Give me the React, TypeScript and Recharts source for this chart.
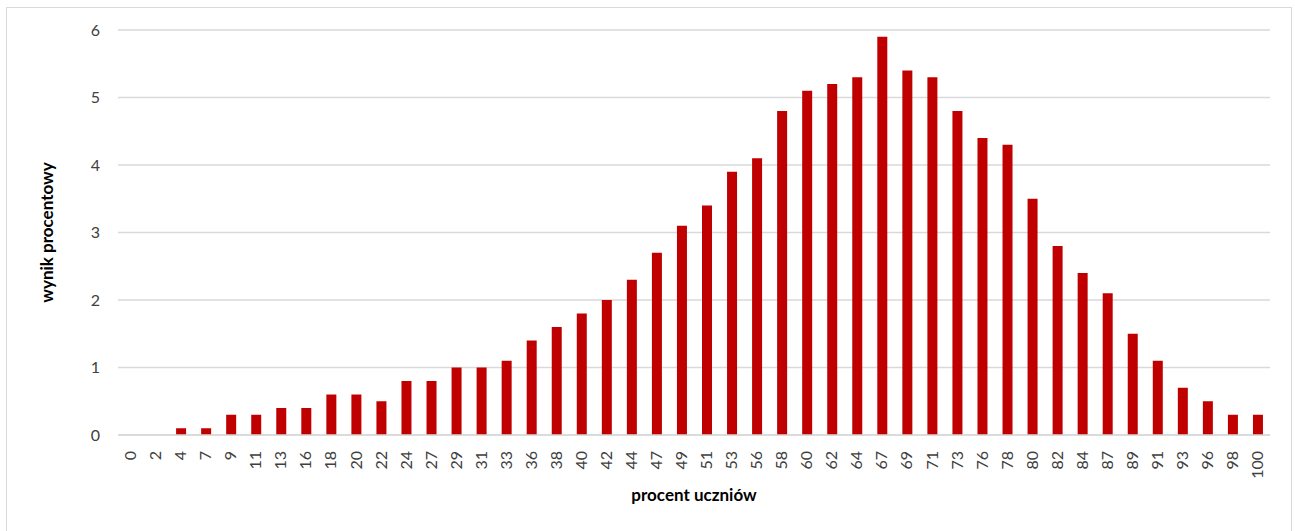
import React from 'react';
import { BarChart, Bar, XAxis, YAxis, CartesianGrid, Label } from 'recharts';

const categories = [
  '0', '2', '4', '7', '9', '11', '13', '16', '18', '20', '22', '24', '27', '29', '31', '33',
  '36', '38', '40', '42', '44', '47', '49', '51', '53', '56', '58', '60', '62', '64', '67',
  '69', '71', '73', '76', '78', '80', '82', '84', '87', '89', '91', '93', '96', '98', '100',
];

const values = [
  0, 0, 0.1, 0.1, 0.3, 0.3, 0.4, 0.4, 0.6, 0.6, 0.5, 0.8, 0.8, 1.0, 1.0, 1.1,
  1.4, 1.6, 1.8, 2.0, 2.3, 2.7, 3.1, 3.4, 3.9, 4.1, 4.8, 5.1, 5.2, 5.3, 5.9,
  5.4, 5.3, 4.8, 4.4, 4.3, 3.5, 2.8, 2.4, 2.1, 1.5, 1.1, 0.7, 0.5, 0.3, 0.3,
];

const yTicks = [0, 1, 2, 3, 4, 5, 6];

const data = categories.map((c, i) => ({ name: c, value: values[i] }));

const FONT = 'Lato, "Open Sans", sans-serif';

const XTick = ({ x, y, payload }: any) => (
  <g transform={`translate(${x},${y})`}>
    <text
      transform="rotate(-90)"
      textAnchor="end"
      dy="0.35em"
      fill="#404040"
      fontSize={16}
      fontFamily={FONT}
    >
      {payload.value}
    </text>
  </g>
);

export default function App() {
  return (
    <div style={{ position: 'absolute', left: 0, top: 0, width: 1295, height: 531, background: '#fff' }}>
      <div
        style={{
          position: 'absolute',
          left: 6,
          top: 7,
          width: 1286,
          height: 530,
          border: '1.5px solid #d9d9d9',
          boxSizing: 'border-box',
        }}
      />
      <div style={{ position: 'absolute', left: 0, top: 0 }}>
        <BarChart
          width={1295}
          height={531}
          data={data}
          margin={{ top: 30, right: 25, left: 0, bottom: 36 }}
        >
          <CartesianGrid vertical={false} stroke="#d9d9d9" strokeWidth={1.5} />
          <XAxis
            dataKey="name"
            interval={0}
            height={60}
            tick={<XTick />}
            tickLine={false}
            tickMargin={10}
            axisLine={{ stroke: '#d9d9d9', strokeWidth: 1.5 }}
          >
            <Label
              value="procent uczniów"
              position="insideBottom"
              offset={-6}
              style={{ fontFamily: FONT, fontSize: 17, fontWeight: 700, fill: '#000' }}
            />
          </XAxis>
          <YAxis
            width={118}
            domain={[0, 6]}
            ticks={yTicks}
            axisLine={false}
            tickLine={false}
            tickMargin={12}
            tick={{ fontSize: 16, fill: '#404040', fontFamily: FONT }}
          >
            <Label
              value="wynik procentowy"
              angle={-90}
              position="insideLeft"
              offset={47}
              style={{ textAnchor: 'middle', fontFamily: FONT, fontSize: 17, fontWeight: 700, fill: '#000' }}
            />
          </YAxis>
          <Bar dataKey="value" fill="#c00000" barSize={10} isAnimationActive={false} />
        </BarChart>
      </div>
    </div>
  );
}
